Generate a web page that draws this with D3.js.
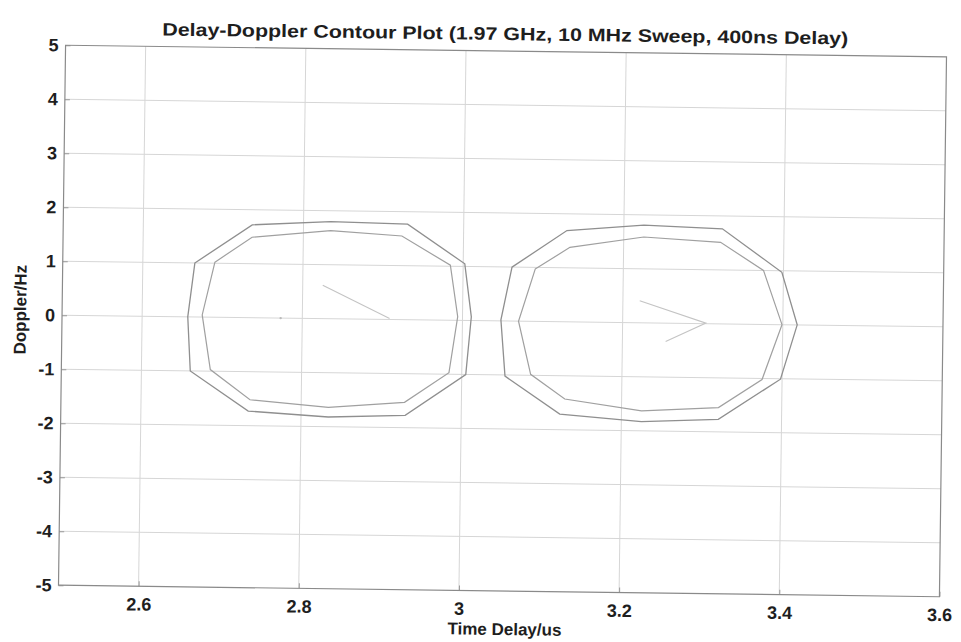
<!DOCTYPE html>
<html><head><meta charset="utf-8">
<script src="https://cdn.jsdelivr.net/npm/d3@7/dist/d3.min.js"></script>
<style>
body{margin:0;background:#fff;}
text{font-family:"Liberation Sans",Arial,sans-serif;font-weight:bold;fill:#1e1e1e;}
</style>
</head><body>
<svg id="c" width="961" height="642"></svg>
<script>
// ---- data ----
const xTickValues = [2.6, 2.8, 3.0, 3.2, 3.4, 3.6];
const xTickLabels = ["2.6", "2.8", "3", "3.2", "3.4", "3.6"];
const yTickValues = [-5, -4, -3, -2, -1, 0, 1, 2, 3, 4, 5];
const yTickLabels = ["-5", "-4", "-3", "-2", "-1", "0", "1", "2", "3", "4", "5"];

const leftOuter = [[2.665,1.0],[2.736,1.72],[2.834,1.80],[2.930,1.77],[3.002,1.05],[3.011,0.07],
                   [3.005,-1.0],[2.930,-1.77],[2.834,-1.82],[2.734,-1.73],[2.661,-1.0],[2.657,0.0]];
const leftInner = [[2.690,1.02],[2.736,1.49],[2.834,1.63],[2.923,1.55],[2.984,1.02],[2.994,0.07],
                   [2.984,-0.97],[2.929,-1.53],[2.834,-1.64],[2.736,-1.52],[2.686,-0.97],[2.675,0.04]];
const leftCore  = [[2.825,0.62],[2.909,0.02]];
const leftDot   = [[2.773,0.0]];
const rightOuter = [[3.061,1.0],[3.129,1.69],[3.225,1.81],[3.323,1.76],[3.398,0.97],[3.418,0.0],
                    [3.398,-1.01],[3.321,-1.77],[3.225,-1.83],[3.123,-1.71],[3.054,-1.02],[3.048,0.02]];
const rightInner = [[3.090,0.97],[3.133,1.38],[3.225,1.59],[3.321,1.51],[3.375,1.0],[3.399,0.0],
                    [3.375,-1.02],[3.321,-1.55],[3.225,-1.63],[3.129,-1.43],[3.086,-0.98],[3.070,0.0]];
const rightCore  = [[3.221,0.41],[3.304,0.01],[3.254,-0.34]];

const titleText = "Delay-Doppler Contour Plot (1.97 GHz, 10 MHz Sweep, 400ns Delay)";
const xLabelText = "Time Delay/us";
const yLabelText = "Doppler/Hz";

// ---- layout ----
const L = 62, R = 943, T = 51, B = 591;
const svg = d3.select("#c");
svg.append("rect").attr("width",961).attr("height",642).attr("fill","#fff");
const g = svg.append("g").attr("transform","rotate(0.75,502.5,321)");

const x = d3.scaleLinear().domain([2.5, 3.6]).range([L, R]);
const y = d3.scaleLinear().domain([-5, 5]).range([B, T]);

// grid
g.append("g").selectAll("line").data(xTickValues.filter(v=>v<3.6)).join("line")
  .attr("x1",d=>x(d)).attr("x2",d=>x(d)).attr("y1",T).attr("y2",B)
  .attr("stroke","#d6d6d6").attr("stroke-width",1);
g.append("g").selectAll("line").data(yTickValues.filter(v=>v>-5&&v<5)).join("line")
  .attr("y1",d=>y(d)).attr("y2",d=>y(d)).attr("x1",L).attr("x2",R)
  .attr("stroke","#d6d6d6").attr("stroke-width",1);

// axes via d3
const xAxis = d3.axisBottom(x).tickValues(xTickValues)
  .tickFormat((d,i)=>xTickLabels[i]).tickSizeInner(-5).tickSizeOuter(0).tickPadding(9);
const yAxis = d3.axisLeft(y).tickValues(yTickValues)
  .tickFormat((d,i)=>yTickLabels[i]).tickSizeInner(-5).tickSizeOuter(0).tickPadding(7);
const gx = g.append("g").attr("transform",`translate(0,${B})`).call(xAxis);
const gy = g.append("g").attr("transform",`translate(${L},0)`).call(yAxis);
[gx,gy].forEach(a=>{
  a.select(".domain").remove();
  a.selectAll(".tick line").attr("stroke","#999");
  a.selectAll(".tick text").attr("font-size",18).attr("fill","#1e1e1e")
    .attr("font-family","'Liberation Sans',Arial,sans-serif").attr("font-weight","bold");
});
gx.selectAll(".tick text").attr("dy","0.85em");

// frame
g.append("rect").attr("x",L).attr("y",T).attr("width",R-L).attr("height",B-T)
  .attr("fill","none").attr("stroke","#8a8a8a").attr("stroke-width",1.2);

// contours
const closed = d3.line().x(d=>x(d[0])).y(d=>y(d[1])).curve(d3.curveLinearClosed);
const open = d3.line().x(d=>x(d[0])).y(d=>y(d[1]));
[leftOuter,rightOuter].forEach(p=>g.append("path").attr("d",closed(p))
  .attr("fill","none").attr("stroke","#8f8f8f").attr("stroke-width",1.3));
[leftInner,rightInner].forEach(p=>g.append("path").attr("d",closed(p))
  .attr("fill","none").attr("stroke","#a0a0a0").attr("stroke-width",1.2));
[leftCore,rightCore].forEach(p=>g.append("path").attr("d",open(p))
  .attr("fill","none").attr("stroke","#c4c4c4").attr("stroke-width",1.1));
g.selectAll(".dot").data(leftDot).join("circle").attr("class","dot")
  .attr("cx",d=>x(d[0])).attr("cy",d=>y(d[1])).attr("r",1.2).attr("fill","#bbb");

// title & labels
const title = g.append("text").attr("x",(L+R)/2 - 1).attr("y",T-11)
  .attr("text-anchor","middle").attr("font-size",18).text(titleText);
title.attr("textLength",686).attr("lengthAdjust","spacingAndGlyphs");
g.append("text").attr("x",(L+R)/2 + 6).attr("y",B+44).attr("text-anchor","middle")
  .attr("font-size",17).text(xLabelText);
g.append("text").attr("transform",`translate(26,${(T+B)/2-5}) rotate(-90)`)
  .attr("text-anchor","middle").attr("font-size",17).text(yLabelText);
</script>
</body></html>
